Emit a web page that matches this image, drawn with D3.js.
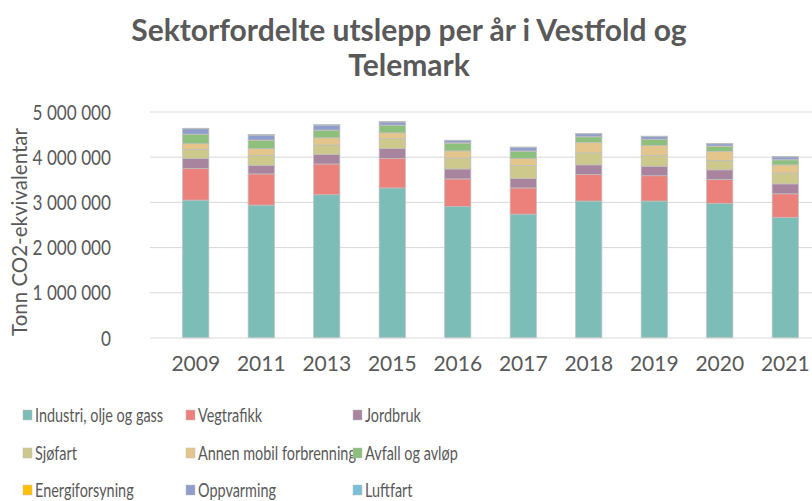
<!DOCTYPE html>
<html>
<head>
<meta charset="utf-8">
<script src="https://cdn.jsdelivr.net/npm/d3@7"></script>
<style>
  body { margin: 0; background: #fff; }
  svg text { font-family: Lato, "Open Sans", sans-serif; fill: #595959; }
</style>
</head>
<body>
<div id="chart"></div>
<script>
const years = ['2009', '2011', '2013', '2015', '2016', '2017', '2018', '2019', '2020', '2021']
const sectors = ['Industri, olje og gass', 'Vegtrafikk', 'Jordbruk', 'Sjøfart', 'Annen mobil forbrenning',
	'Avfall og avløp', 'Energiforsyning', 'Oppvarming', 'Luftfart']
const colors = ['#7dbdb8', '#ec817c', '#a9849f', '#cdc88c', '#e4c58b', '#8dbf7d', '#ffc000', '#8e9dcb', '#79c0d7']

// tonn per sektor, same order as years
const industri = [3050000, 2940000, 3170000, 3320000, 2910000, 2740000, 3030000, 3030000, 2980000, 2670000]
const vegtrafikk = [700000, 690000, 680000, 650000, 610000, 580000, 590000, 560000, 530000, 520000]
const jordbruk = [220000, 190000, 210000, 220000, 220000, 210000, 210000, 210000, 210000, 220000]
const sjofart = [200000, 220000, 210000, 220000, 240000, 290000, 270000, 240000, 210000, 240000]
const annenMobil = [130000, 150000, 160000, 130000, 160000, 150000, 230000, 220000, 200000, 180000]
const avfall = [200000, 180000, 160000, 160000, 170000, 160000, 120000, 130000, 110000, 110000]
const energi = [10000, 10000, 10000, 10000, 8000, 8000, 8000, 8000, 8000, 8000]
const oppvarming = [120000, 110000, 110000, 70000, 50000, 80000, 60000, 60000, 50000, 60000]
const luftfart = [10000, 10000, 10000, 10000, 8000, 8000, 8000, 8000, 8000, 8000]

const yTicks = [0, 1000000, 2000000, 3000000, 4000000, 5000000]

const series = [industri, vegtrafikk, jordbruk, sjofart, annenMobil, avfall, energi, oppvarming, luftfart]
const rows = years.map((y, i) => {
	const r = {year: y}
	sectors.forEach((s, k) => { r[s] = series[k][i] })
	return r
})

const W = 812, H = 501
const svg = d3.select('#chart').append('svg').attr('width', W).attr('height', H)

const x = d3.scaleBand().domain(years).range([163, 818]).paddingInner(0.6).paddingOuter(0.3)
const y = d3.scaleLinear().domain([0, 5000000]).range([338, 112])

const fmt = d3.formatLocale({decimal: ',', thousands: '\u00a0', grouping: [3], currency: ['', ' kr']}).format(',d')

// title
const title = svg.append('g')
	.attr('text-anchor', 'middle')
	.style('font-size', '30px').style('font-weight', 'bold')
title.append('text').attr('x', 409).attr('y', 41).text('Sektorfordelte utslepp per år i Vestfold og')
title.append('text').attr('x', 409).attr('y', 76).text('Telemark')

// gridlines
svg.append('g')
	.selectAll('line').data(yTicks.slice(1)).join('line')
	.attr('x1', 150).attr('x2', W)
	.attr('y1', d => y(d)).attr('y2', d => y(d))
	.attr('stroke', '#d9d9d9').attr('stroke-width', 1)

// y axis labels
const yAxis = svg.append('g')
	.attr('transform', 'translate(118,0)')
	.call(d3.axisLeft(y).tickValues(yTicks).tickFormat(fmt).tickSize(0).tickPadding(9))
yAxis.select('.domain').remove()
yAxis.selectAll('text')
	.style('font-size', '22px').attr('fill', '#595959')
	.attr('transform', 'scale(0.78,1)')

svg.append('text')
	.attr('transform', 'translate(27,232) rotate(-90)')
	.attr('text-anchor', 'middle')
	.style('font-size', '20.5px')
	.text('Tonn CO2-ekvivalentar')

// bars
const stack = d3.stack().keys(sectors)(rows)
svg.append('g')
	.selectAll('g').data(stack).join('g')
	.attr('fill', (d, i) => colors[i])
	.selectAll('rect').data(d => d).join('rect')
	.attr('x', d => x(d.data.year))
	.attr('width', x.bandwidth())
	.attr('y', d => y(d[1]))
	.attr('height', d => y(d[0]) - y(d[1]))
	.attr('stroke', '#bfbfbf').attr('stroke-width', 0.75)

// x axis
const xAxis = svg.append('g')
	.attr('transform', 'translate(0,338)')
	.call(d3.axisBottom(x).tickSize(0).tickPadding(18))
xAxis.select('.domain').attr('stroke', '#d9d9d9').attr('d', `M150,0H${W}`)
xAxis.selectAll('text').style('font-size', '21px').attr('fill', '#595959')

// legend
const legendCols = [23, 186, 353]
const legendRows = [415, 453, 490]
const legend = svg.append('g')
	.selectAll('g').data(sectors).join('g')
	.attr('transform', (d, i) => `translate(${legendCols[i % 3]},${legendRows[Math.floor(i / 3)]})`)
legend.append('rect')
	.attr('x', 0).attr('y', -5).attr('width', 9).attr('height', 10)
	.attr('fill', (d, i) => colors[i])
	.attr('stroke', '#bfbfbf').attr('stroke-width', 0.5)
legend.append('text')
	.attr('transform', 'translate(12,0) scale(0.76,1)')
	.attr('dy', '0.35em')
	.style('font-size', '19px')
	.text(d => d)
</script>
</body>
</html>
